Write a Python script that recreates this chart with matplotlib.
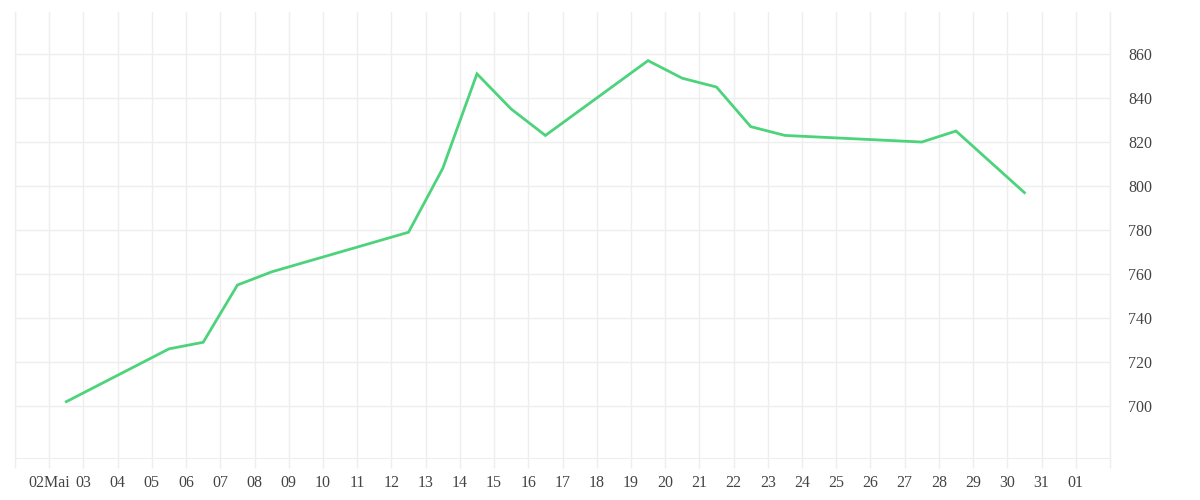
import matplotlib

matplotlib.use("Agg")
import matplotlib.pyplot as plt
import pandas as pd

# values (timestamps at midday)
DAYS = [2, 5, 6, 7, 8, 12, 13, 14, 15, 16, 19, 20, 21, 22, 23, 27, 28, 30]
VALUES = [702, 726, 729, 755, 761, 779, 808, 851, 835, 823, 857, 849, 845, 827, 823, 820, 825, 797]
Y_TICKS = [700, 720, 740, 760, 780, 800, 820, 840, 860]

GRID = "#eeeeee"
TEXT = "#444444"
LINE = "#4cd37b"

plt.rcParams["font.family"] = ["Liberation Serif", "DejaVu Serif"]

times = pd.to_datetime([f"2024-05-{d:02d} 12:00" for d in DAYS])
ticks = pd.date_range("2024-05-01", "2024-06-02", freq="D")
labels = []
for t in ticks:
    if t == ticks[0] or t == ticks[-1]:
        labels.append("")
    elif t.day == 2 and t.month == 5:
        labels.append("02Mai")
    else:
        labels.append(t.strftime("%d"))

fig = plt.figure(figsize=(12, 5), dpi=100)
ax = fig.add_axes([15 / 1200, 42 / 500, 1095 / 1200, 446 / 500])

ax.plot(times, VALUES, color=LINE, lw=2.0, solid_joinstyle="miter")

ax.set_xlim(ticks[0], ticks[-1])
ax.set_ylim(676.4, 879.1)
ax.set_xticks(ticks)
ax.set_xticklabels(labels)
ax.set_yticks(Y_TICKS)

ax.yaxis.tick_right()
ax.grid(True, color=GRID, lw=1)
for edge in (ticks[0], ticks[-1]):
    ax.axvline(edge, color=GRID, lw=1, clip_on=False, zorder=0)
ax.set_axisbelow(True)
for side in ("top", "left", "right"):
    ax.spines[side].set_visible(False)
ax.spines["bottom"].set_color(GRID)
ax.tick_params(axis="x", length=7.5, width=1, color=GRID, labelcolor=TEXT, labelsize=11.5, pad=5)
ax.tick_params(axis="y", length=0, labelcolor=TEXT, labelsize=11.5, pad=13)
for lab in ax.get_yticklabels():
    lab.set_horizontalalignment("left")

fig.savefig("out.png", dpi=100, facecolor="white")
